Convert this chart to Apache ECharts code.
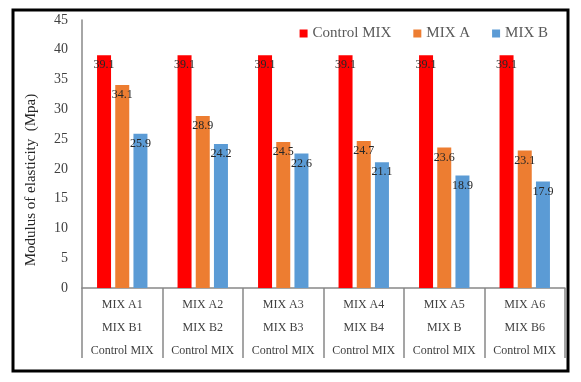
<!DOCTYPE html>
<html>
<head>
<meta charset="utf-8">
<script src="https://cdn.jsdelivr.net/npm/echarts@6/dist/echarts.min.js"></script>
<style>
  html, body { margin: 0; padding: 0; background: #fff; }
  #chart { width: 581px; height: 382px; }
</style>
</head>
<body>
<div id="chart"></div>
<script>
// categories: three-line labels as in the sheet
const categories = [
  'MIX A1\nMIX B1\nControl MIX',
  'MIX A2\nMIX B2\nControl MIX',
  'MIX A3\nMIX B3\nControl MIX',
  'MIX A4\nMIX B4\nControl MIX',
  'MIX A5\nMIX B\nControl MIX',
  'MIX A6\nMIX B6\nControl MIX'
];
const seriesNames = ['Control MIX', 'MIX A', 'MIX B'];
const controlMix = [39.1, 39.1, 39.1, 39.1, 39.1, 39.1];
const mixA = [34.1, 28.9, 24.5, 24.7, 23.6, 23.1];
const mixB = [25.9, 24.2, 22.6, 21.1, 18.9, 17.9];
const yTicks = [0, 5, 10, 15, 20, 25, 30, 35, 40, 45];

const serif = '"Liberation Serif", "DejaVu Serif", serif';
const colors = ['#ff0000', '#ed7d31', '#5b9bd5'];

let myChart = echarts.init(document.getElementById('chart'));

function barSeries(name, data) {
  return {
    name: name,
    type: 'bar',
    data: data,
    barWidth: 14,
    barGap: '30%',
    label: {
      show: true,
      position: 'insideTop',
      distance: 4,
      fontFamily: serif,
      fontSize: 12,
      color: '#262626'
    }
  };
}

myChart.setOption({
  animation: false,
  color: colors,
  grid: { left: 82, right: 16, top: 20, bottom: 94 },
  legend: {
    data: seriesNames,
    top: 26,
    right: 33,
    padding: 0,
    icon: 'rect',
    itemWidth: 8,
    itemHeight: 8,
    itemGap: 22,
    textStyle: { fontFamily: serif, fontSize: 15, color: '#595959' }
  },
  xAxis: {
    type: 'category',
    data: categories,
    axisLine: { lineStyle: { color: '#888', width: 1.5 } },
    axisTick: { show: true, length: 70, alignWithLabel: false, lineStyle: { color: '#888', width: 1.5 } },
    axisLabel: {
      interval: 0,
      margin: 5,
      fontFamily: serif,
      fontSize: 12,
      lineHeight: 23,
      color: '#404040'
    }
  },
  yAxis: {
    type: 'value',
    min: yTicks[0],
    max: yTicks[yTicks.length - 1],
    interval: 5,
    splitLine: { show: false },
    axisLine: { show: true, lineStyle: { color: '#888', width: 1.5 } },
    axisTick: { show: false },
    axisLabel: { margin: 14, fontFamily: serif, fontSize: 14, color: '#404040' }
  },
  graphic: [
    {
      type: 'text',
      x: 31,
      y: 180,
      rotation: Math.PI / 2,
      style: {
        text: 'Modulus of elasticity  (Mpa)',
        fontFamily: serif,
        fontSize: 15,
        fill: '#262626',
        align: 'center',
        verticalAlign: 'middle'
      }
    },
    {
      type: 'rect',
      shape: { x: 13, y: 10, width: 555, height: 361 },
      style: { fill: 'none', stroke: '#000', lineWidth: 3 },
      silent: true
    }
  ],
  series: [
    barSeries(seriesNames[0], controlMix),
    barSeries(seriesNames[1], mixA),
    barSeries(seriesNames[2], mixB)
  ]
});
</script>
</body>
</html>
